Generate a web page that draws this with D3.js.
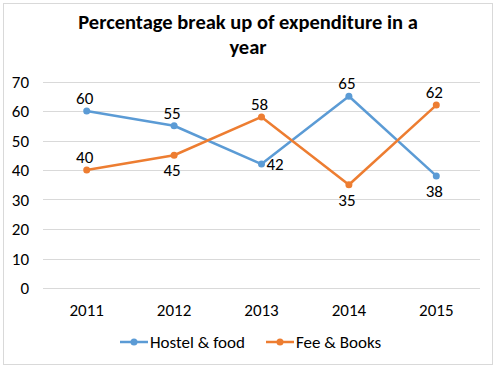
<!DOCTYPE html>
<html>
<head>
<meta charset="utf-8">
<script src="https://cdn.jsdelivr.net/npm/d3@7"></script>
<style>
  body { margin: 0; background: #fff; }
  text { font-family: Carlito, Lato, "Open Sans", "Liberation Sans", sans-serif; }
</style>
</head>
<body>
<div id="chart"></div>
<script>
var years = ["2011", "2012", "2013", "2014", "2015"];
var hostel = [60, 55, 42, 65, 38];
var fees = [40, 45, 58, 35, 62];
// where each data label sits relative to its point
var hostelPos = ["top", "top", "right", "top", "bottom"];
var feesPos = ["top", "bottom", "top", "bottom", "top"];
var yTicks = [0, 10, 20, 30, 40, 50, 60, 70];
var seriesNames = ["Hostel & food", "Fee & Books"];

var width = 496,
    height = 368,
    colors = ["#5b9bd5", "#ed7d31"];

var svg = d3.select("#chart").append("svg")
    .attr("width", width)
    .attr("height", height);

svg.append("rect")
    .attr("x", 3.5).attr("y", 3.5)
    .attr("width", 489).attr("height", 361)
    .attr("fill", "#fff").attr("stroke", "#d9d9d9");

// title, two lines
var title = svg.append("text").attr("text-anchor", "middle")
    .attr("font-size", 20.5).attr("font-weight", "bold");
title.append("tspan").attr("x", 248).attr("y", 29)
    .text("Percentage break up of expenditure in a");
title.append("tspan").attr("x", 248).attr("y", 54)
    .text("year");

var x = d3.scaleBand().domain(years).range([43, 480]);
var y = d3.scaleLinear().domain([0, 70]).range([288, 81.5]);

// gridlines
svg.append("g").selectAll("line").data(yTicks).enter().append("line")
    .attr("x1", 43).attr("x2", 480)
    .attr("y1", function (d) { return Math.round(y(d)) + 0.5; })
    .attr("y2", function (d) { return Math.round(y(d)) + 0.5; })
    .attr("stroke", "#d9d9d9");

// y labels
svg.append("g").selectAll("text").data(yTicks).enter().append("text")
    .attr("x", 29).attr("y", function (d) { return y(d) + 6; })
    .attr("text-anchor", "end").attr("font-size", 17).attr("fill", "#000")
    .text(function (d) { return d; });

// x labels
svg.append("g").selectAll("text").data(years).enter().append("text")
    .attr("x", function (d) { return x(d) + x.bandwidth() / 2; })
    .attr("y", 316)
    .attr("text-anchor", "middle").attr("font-size", 17).attr("fill", "#000")
    .text(function (d) { return d; });

var line = d3.line()
    .x(function (d, i) { return x(years[i]) + x.bandwidth() / 2; })
    .y(function (d) { return y(d); });

[hostel, fees].forEach(function (vals, s) {
  var g = svg.append("g");
  var pos = s == 0 ? hostelPos : feesPos;
  g.append("path").attr("d", line(vals))
      .attr("fill", "none").attr("stroke", colors[s]).attr("stroke-width", 2.5)
      .attr("stroke-linejoin", "round");
  g.selectAll("circle").data(vals).enter().append("circle")
      .attr("cx", function (d, i) { return x(years[i]) + x.bandwidth() / 2; })
      .attr("cy", function (d) { return y(d); })
      .attr("r", 3.5).attr("fill", colors[s]);
  g.selectAll("text").data(vals).enter().append("text")
      .attr("x", function (d, i) {
        var cx = x(years[i]) + x.bandwidth() / 2;
        return pos[i] == "right" ? cx + 5 : cx - 2;
      })
      .attr("y", function (d, i) {
        if (pos[i] == "top") return y(d) - 7;
        if (pos[i] == "bottom") return y(d) + 21;
        return y(d) + 6;
      })
      .attr("text-anchor", function (d, i) { return pos[i] == "right" ? "start" : "middle"; })
      .attr("font-size", 17).attr("fill", "#000")
      .text(function (d) { return d; });
});

// legend
var legendX = [120, 266];
seriesNames.forEach(function (name, s) {
  var lg = svg.append("g").attr("transform", "translate(" + legendX[s] + ",342)");
  lg.append("line").attr("x1", 0).attr("x2", 28).attr("y1", 0).attr("y2", 0)
      .attr("stroke", colors[s]).attr("stroke-width", 2.5);
  lg.append("circle").attr("cx", 14).attr("cy", 0).attr("r", 3.5).attr("fill", colors[s]);
  lg.append("text").attr("x", 30).attr("y", 6).attr("font-size", 17).text(name);
});
</script>
</body>
</html>
